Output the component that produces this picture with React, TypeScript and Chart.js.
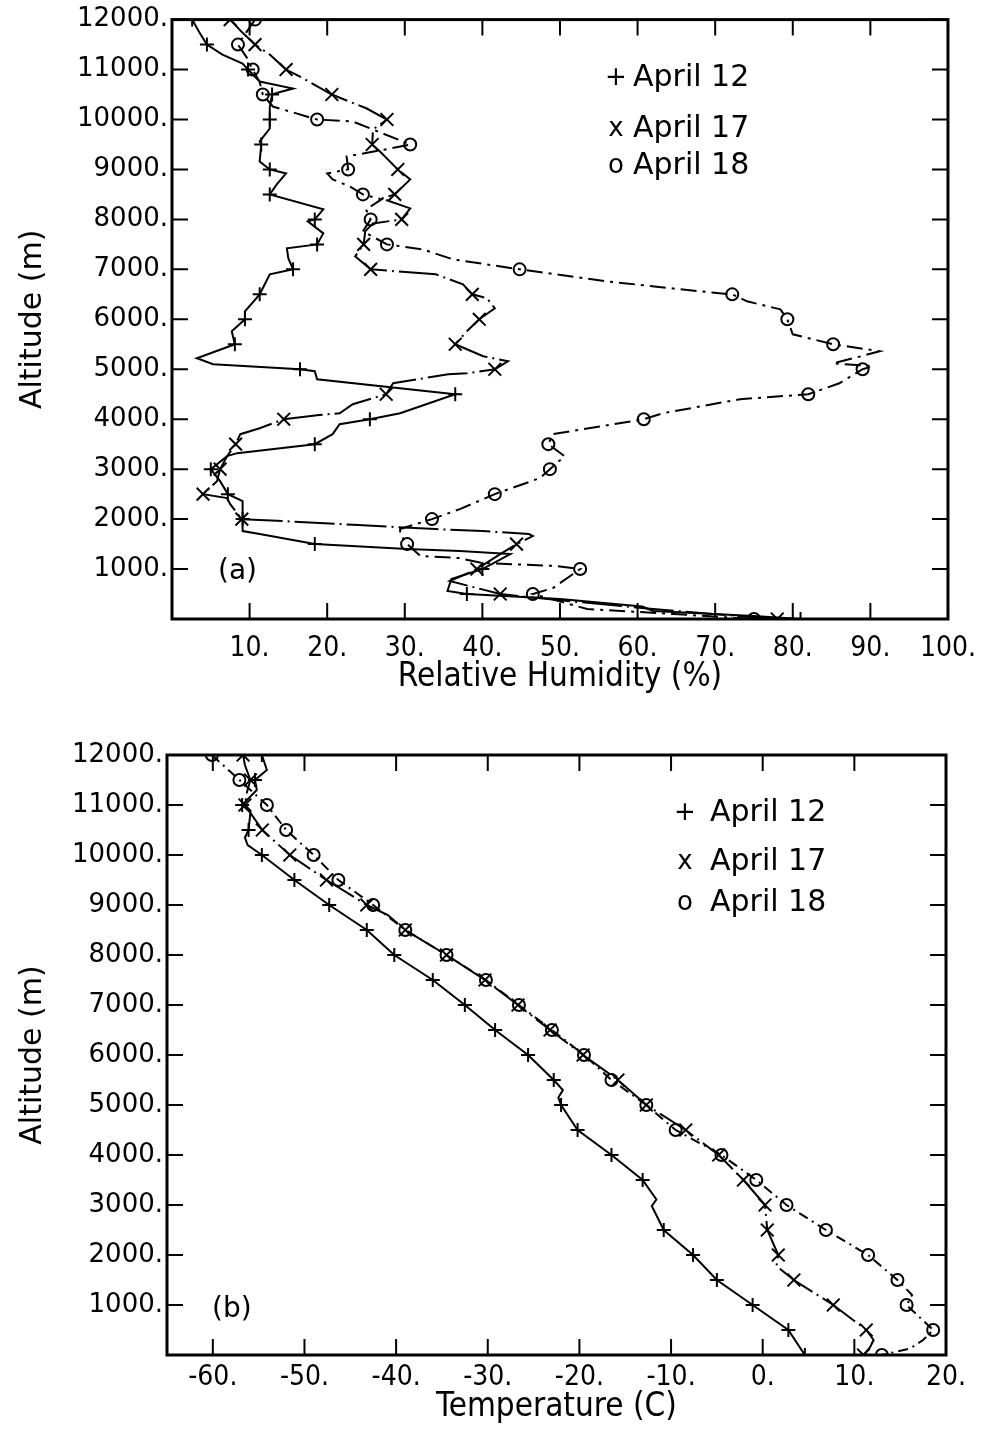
import React, { useEffect, useRef } from 'react';
import { Chart, registerables } from 'chart.js';
Chart.register(...registerables);

// ---------- names / ticks ----------
const seriesNames = ['April 12', 'April 17', 'April 18'];
const seriesSymbols = ['+', 'x', 'o'];
const altTicks = [0, 1000, 2000, 3000, 4000, 5000, 6000, 7000, 8000, 9000, 10000, 11000, 12000];
const rhTicks = [0, 10, 20, 30, 40, 50, 60, 70, 80, 90, 100];
const tempTicks = [-60, -50, -40, -30, -20, -10, 0, 10, 20];

// ---------- panel (a): relative humidity (%) ----------
const rhAlt12 = [12000, 11750, 11500, 11300, 11120, 11000, 10760, 10620, 10540, 10500, 10250, 10000, 9820, 9560, 9500, 9160, 9000, 8920, 8700, 8500, 8200, 8000, 7960, 7720, 7500, 7420, 7220, 7000, 6900, 6500, 6160, 6000, 5760, 5500, 5220, 5100, 5000, 4960, 4800, 4500, 4120, 4000, 3900, 3700, 3500, 3320, 3260, 3000, 2760, 2500, 2360, 2000, 1760, 1700, 1500, 1400, 1360, 1300, 1000, 800, 560, 500, 400, 250, 160, 60, 0];
const rh12 = [2.6, 3.5, 4.5, 6.5, 9.1, 9.8, 11.3, 15.6, 13.7, 12.9, 12.6, 12.6, 12.6, 11.3, 11.5, 11.3, 12.6, 14.7, 13.5, 12.6, 19.5, 18.4, 17.5, 19.5, 18.7, 14.8, 15, 15.6, 12.6, 11.3, 9.4, 9.4, 7.7, 8.1, 3.2, 5.3, 16.5, 18.4, 18.7, 36.5, 29.4, 25.5, 21.6, 20.7, 18.4, 8.4, 7.1, 5, 6.2, 7.2, 9.1, 9.1, 9.1, 11.3, 18.4, 30.3, 37.1, 43.6, 40, 36, 35.5, 38, 50, 60.6, 62, 75, 81];

const rhAlt17 = [12000, 11750, 11500, 11300, 11000, 10860, 10500, 10220, 10000, 9800, 9500, 9360, 9000, 8800, 8500, 8420, 8220, 8000, 7920, 7760, 7500, 7260, 7000, 6900, 6700, 6500, 6420, 6220, 6000, 5760, 5500, 5260, 5160, 5000, 4920, 4900, 4720, 4500, 4300, 4120, 4080, 4000, 3820, 3700, 3500, 3260, 3000, 2760, 2500, 2420, 2300, 2000, 1960, 1880, 1800, 1760, 1700, 1660, 1500, 1300, 1000, 760, 500, 360, 200, 100, 0];
const rh17 = [7.5, 9, 10.7, 12.6, 14.7, 16.5, 20.6, 25.1, 27.7, 25.9, 25.8, 26.8, 29.1, 30.7, 28.7, 27, 30.7, 29.6, 25.9, 24.9, 24.7, 23.6, 25.6, 34, 37.5, 38.7, 40.6, 41.6, 39.6, 38, 36.5, 40.1, 43.3, 41.6, 38, 35.6, 28.5, 27.6, 23.3, 21.6, 18.7, 14.4, 11.3, 8.8, 8.2, 7.1, 6.2, 5.8, 4, 7.1, 7.5, 9, 14.3, 24, 34, 40, 46, 46.5, 44.4, 42.3, 39.3, 35.8, 42.3, 51, 62, 69.7, 78];

const rhAlt18 = [12000, 11750, 11500, 11250, 11000, 10750, 10500, 10260, 10000, 9960, 9800, 9500, 9400, 9260, 9000, 8920, 8800, 8660, 8500, 8400, 8200, 8000, 7760, 7500, 7400, 7200, 7000, 6760, 6560, 6500, 6360, 6200, 6000, 5700, 5500, 5360, 5240, 5120, 5060, 5000, 4720, 4500, 4400, 4120, 4000, 3700, 3500, 3260, 3000, 2820, 2500, 2200, 2000, 1800, 1700, 1500, 1260, 1220, 1120, 1060, 1000, 620, 500, 200, 100, 0];
const rh18 = [10.7, 9.6, 8.5, 9.6, 10.4, 11.3, 11.7, 13, 18.7, 23.3, 25.9, 30.7, 27.5, 22.5, 22.7, 20, 20.7, 22.9, 24.6, 27, 25, 25.6, 24.6, 27.7, 32.3, 36.2, 44.8, 56, 68, 72.2, 74.1, 78.4, 79.3, 80, 85.2, 91.2, 88.3, 85.2, 90.3, 89, 86, 82, 73.2, 63.3, 60.8, 49.1, 48.5, 50.6, 48.7, 47.4, 41.6, 37.1, 33.5, 29.4, 29.4, 30.3, 32, 37, 40, 49.6, 52.6, 49.1, 46.5, 53.5, 64.6, 75];

// ---------- panel (b): temperature (C) ----------
const tAlt12 = [12000, 11700, 11500, 11300, 11000, 10850, 10500, 10350, 10200, 10000, 9500, 9000, 8500, 8000, 7500, 7000, 6500, 6000, 5500, 5300, 5150, 5000, 4500, 4000, 3500, 3110, 2980, 2500, 2000, 1500, 1000, 500, 0];
const temp12 = [-54.65, -54.1, -55.4, -55.2, -56.8, -55.9, -56.1, -56.5, -56.2, -54.65, -51.1, -47.3, -43.2, -40.2, -36, -32.5, -29.2, -25.6, -22.8, -21.8, -22.3, -22, -20.2, -16.5, -13.1, -11.6, -12.1, -10.8, -7.6, -5, -1.1, 2.8, 4.6];

const tAlt17 = [12000, 11800, 11500, 11240, 11000, 10500, 10000, 9500, 9000, 8800, 8500, 8000, 7500, 7000, 6500, 6000, 5500, 5000, 4500, 4000, 3500, 3000, 2500, 2000, 1780, 1500, 1000, 500, 300, 150, 0];
const temp17 = [-56.7, -56.5, -55.9, -56.3, -56.5, -54.6, -51.6, -47.6, -43.2, -40.9, -39, -34.5, -30.3, -26.7, -23.2, -19.6, -15.8, -12.7, -8.4, -4.8, -2.1, 0.25, 0.5, 1.7, 1.5, 3.4, 7.7, 11.3, 12.1, 11.7, 11];

const tAlt18 = [12000, 11500, 11000, 10500, 10000, 9500, 9000, 8500, 8000, 7500, 7000, 6500, 6000, 5500, 5000, 4500, 4000, 3500, 3000, 2500, 2000, 1500, 1200, 1000, 500, 300, 130, 0];
const temp18 = [-60.1, -57.1, -54.1, -52, -49, -46.3, -42.5, -39, -34.5, -30.2, -26.6, -23, -19.5, -16.5, -12.7, -9.5, -4.5, -0.7, 2.6, 6.9, 11.5, 14.7, 16.3, 15.7, 18.6, 17.5, 16.1, 13];

// ---------- helpers ----------
const FONT = "'DejaVu Sans', sans-serif";
const NARROW = "'DejaVu Sans Condensed', 'DejaVu Sans', sans-serif";

function makeDataset(label: string, alts: number[], vals: number[], style: string, dash: number[]) {
  return {
    label,
    data: alts.map((a, i) => ({ x: vals[i], y: a })),
    showLine: true,
    borderColor: '#000',
    borderWidth: 2,
    borderDash: dash,
    pointStyle: style,
    pointRadius: (c: any) =>
      c.raw && c.raw.y % 500 === 0 ? (style === 'circle' ? 6 : style === 'crossRot' ? 9 : 7) : 0,
    pointHoverRadius: 0,
    pointBorderColor: '#000',
    pointBackgroundColor: 'rgba(0,0,0,0)',
    pointBorderWidth: 2,
    tension: 0,
  };
}

const framePlugin = {
  id: 'frameTicks',
  afterDraw(chart: any, _args: any, opts: any) {
    const { ctx, chartArea: a, scales } = chart;
    ctx.save();
    ctx.strokeStyle = '#000';
    ctx.lineWidth = 3;
    ctx.strokeRect(a.left, a.top, a.right - a.left, a.bottom - a.top);
    ctx.lineWidth = 2;
    const L = 16;
    ctx.beginPath();
    scales.x.ticks.forEach((t: any) => {
      const px = scales.x.getPixelForValue(t.value);
      ctx.moveTo(px, a.bottom);
      ctx.lineTo(px, a.bottom - L);
      ctx.moveTo(px, a.top);
      ctx.lineTo(px, a.top + L);
    });
    scales.y.ticks.forEach((t: any) => {
      const py = scales.y.getPixelForValue(t.value);
      ctx.moveTo(a.left, py);
      ctx.lineTo(a.left + L, py);
      ctx.moveTo(a.right, py);
      ctx.lineTo(a.right - L, py);
    });
    ctx.stroke();

    // legend text
    ctx.fillStyle = '#000';
    ctx.textBaseline = 'middle';
    seriesNames.forEach((name, i) => {
      const y = a.top + opts.rows[i];
      ctx.textAlign = 'center';
      ctx.font = `26px ${FONT}`;
      ctx.fillText(seriesSymbols[i], a.left + opts.symX, y);
      ctx.textAlign = 'left';
      ctx.font = `30px ${FONT}`;
      ctx.fillText(name, a.left + opts.textX, y);
    });
    // panel label
    ctx.textAlign = 'left';
    ctx.font = `28px ${FONT}`;
    ctx.fillText(opts.panel, a.left + opts.panelX, a.bottom - opts.panelDY);
    ctx.restore();
  },
};

function buildConfig(p: {
  datasets: any[];
  xMin: number;
  xMax: number;
  xTicks: number[];
  xTitle: string;
  yWidth: number;
  xHeight: number;
  padTop: number;
  padRight: number;
  xLabelPad: number;
  xTitlePad: number;
  plugin: any;
}) {
  return {
    type: 'scatter' as const,
    data: { datasets: p.datasets },
    options: {
      responsive: false,
      animation: false,
      events: [],
      layout: { padding: { top: p.padTop, right: p.padRight, bottom: 0, left: 0 } },
      plugins: {
        legend: { display: false },
        tooltip: { enabled: false },
        frameTicks: p.plugin,
      },
      scales: {
        x: {
          type: 'linear',
          min: p.xMin,
          max: p.xMax,
          afterBuildTicks: (s: any) => {
            s.ticks = p.xTicks.map((v) => ({ value: v }));
          },
          afterFit: (s: any) => {
            s.height = p.xHeight;
          },
          grid: { display: false, drawTicks: false },
          border: { display: false },
          ticks: {
            autoSkip: false,
            maxRotation: 0,
            padding: p.xLabelPad,
            color: '#000',
            font: { family: NARROW, size: 28 },
            callback: (v: any) => (v === 0 && p.xMin === 0 ? '' : v + '.'),
          },
          title: {
            display: true,
            text: p.xTitle,
            color: '#000',
            font: { family: NARROW, size: 33 },
            padding: { top: 0, bottom: p.xTitlePad },
          },
        },
        y: {
          type: 'linear',
          min: 0,
          max: 12000,
          afterBuildTicks: (s: any) => {
            s.ticks = altTicks.map((v) => ({ value: v }));
          },
          afterFit: (s: any) => {
            s.width = p.yWidth;
          },
          grid: { display: false, drawTicks: false },
          border: { display: false },
          ticks: {
            autoSkip: false,
            padding: 4,
            color: '#000',
            font: { family: FONT, size: 26 },
            callback: (v: any) => (v === 0 ? '' : v + '.'),
          },
          title: {
            display: true,
            text: 'Altitude (m)',
            color: '#000',
            font: { family: FONT, size: 30 },
            padding: { top: 15, bottom: 0 },
          },
        },
      },
    },
    plugins: [framePlugin],
  };
}

export default function App() {
  const refA = useRef<HTMLCanvasElement | null>(null);
  const refB = useRef<HTMLCanvasElement | null>(null);

  useEffect(() => {
    const chartA = new Chart(
      refA.current as HTMLCanvasElement,
      buildConfig({
        datasets: [
          makeDataset(seriesNames[0], rhAlt12, rh12, 'cross', []),
          makeDataset(seriesNames[1], rhAlt17, rh17, 'crossRot', [40, 5, 2, 5]),
          makeDataset(seriesNames[2], rhAlt18, rh18, 'circle', [16, 6, 3, 6]),
        ],
        xMin: 0,
        xMax: 100,
        xTicks: rhTicks,
        xTitle: 'Relative Humidity (%)',
        yWidth: 172,
        xHeight: 86,
        padTop: 18,
        padRight: 41,
        xLabelPad: 13,
        xTitlePad: 8,
        plugin: { rows: [59, 110, 147], symX: 444, textX: 461, panel: '(a)', panelX: 46, panelDY: 47 },
      }) as any
    );
    const chartB = new Chart(
      refB.current as HTMLCanvasElement,
      buildConfig({
        datasets: [
          makeDataset(seriesNames[0], tAlt12, temp12, 'cross', []),
          makeDataset(seriesNames[1], tAlt17, temp17, 'crossRot', [40, 5, 2, 5]),
          makeDataset(seriesNames[2], tAlt18, temp18, 'circle', [10, 5, 2, 5]),
        ],
        xMin: -65,
        xMax: 20,
        xTicks: tempTicks,
        xTitle: 'Temperature (C)',
        yWidth: 167,
        xHeight: 74,
        padTop: 50,
        padRight: 43,
        xLabelPad: 6,
        xTitlePad: 2,
        plugin: { rows: [58, 107, 148], symX: 518, textX: 543, panel: '(b)', panelX: 45, panelDY: 45 },
      }) as any
    );
    return () => {
      chartA.destroy();
      chartB.destroy();
    };
  }, []);

  return (
    <div style={{ position: 'absolute', left: 0, top: 0, width: 989, height: 1429, background: '#fff' }}>
      <canvas ref={refA} width={989} height={705} style={{ position: 'absolute', left: 0, top: 0, display: 'block' }} />
      <canvas ref={refB} width={989} height={724} style={{ position: 'absolute', left: 0, top: 705, display: 'block' }} />
    </div>
  );
}
